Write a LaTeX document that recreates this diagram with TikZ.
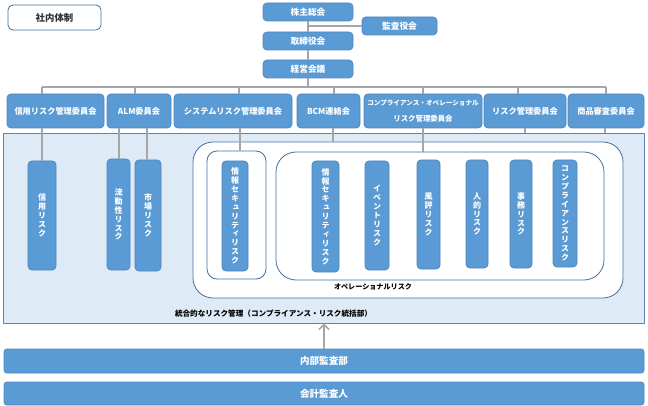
\documentclass[tikz,border=0pt]{standalone}
\usepackage{fontspec}
\newfontfamily\jp{Noto Sans CJK JP}
\newfontfamily\jpv[RawFeature=+vert]{Noto Sans CJK JP}
\usetikzlibrary{arrows.meta}
\definecolor{boxblue}{HTML}{5B9BD5}
\definecolor{boxedge}{HTML}{4F86BF}
\definecolor{panelfill}{HTML}{DEEAF6}
\definecolor{paneledge}{HTML}{5A86B2}
\definecolor{opedge}{HTML}{41719C}
\definecolor{conn}{HTML}{A6A6A6}
\tikzset{
  bluebox/.style={draw=boxedge, line width=0.8pt, fill=boxblue, rounded corners=4pt, text=white, inner sep=0pt, font=\jp\bfseries\fontsize{8.2}{9}\selectfont, align=center},
  topbox/.style={bluebox, font=\jp\bfseries\fontsize{8.7}{10}\selectfont},
  riskbox/.style={bluebox, font=\jpv\bfseries\fontsize{8}{8.9}\selectfont},
  wideband/.style={bluebox, rounded corners=3pt, font=\jp\bfseries\fontsize{9.6}{10}\selectfont},
  opbox/.style={draw=opedge, line width=0.8pt, fill=white, inner sep=0pt},
  link/.style={draw=conn, line width=1.4pt},
  lbl/.style={font=\jp\bfseries\fontsize{7.6}{9}\selectfont, text=black, inner sep=0pt}
}
\begin{document}
\begin{tikzpicture}[x=1pt,y=-1pt]
\useasboundingbox (0,0) rectangle (648,406);
% title
\node[draw=opedge, line width=0.8pt, fill=white, rounded corners=5pt, minimum width=93pt, minimum height=25pt, inner sep=0pt, text=black!80, font=\jp\bfseries\fontsize{9.4}{10}\selectfont] (title) at (54.5,17.5) {社内体制};
% panel
\node[draw=paneledge, line width=0.8pt, fill=panelfill, minimum width=641pt, minimum height=190pt, inner sep=0pt] (panel) at (323.5,228) {};
\node[opbox, rounded corners=20pt, minimum width=430pt, minimum height=156pt] (opouter) at (408,220) {};
\node[opbox, rounded corners=10pt, minimum width=59pt, minimum height=128pt] (in1) at (236.5,215) {};
\node[opbox, rounded corners=20pt, minimum width=328pt, minimum height=128pt] (in2) at (440,216) {};
% top governance
\node[topbox, minimum width=90pt, minimum height=18pt] (kabu) at (308,12) {株主総会};
\node[topbox, minimum width=75pt, minimum height=18pt] (kansa) at (399.5,26) {監査役会};
\node[topbox, minimum width=90pt, minimum height=18pt] (tori) at (308,41) {取締役会};
\node[topbox, minimum width=90pt, minimum height=18pt] (keiei) at (308,69) {経営会議};
% committees
\node[bluebox, minimum width=97pt, minimum height=34pt] (c1) at (55.5,111) {信用リスク管理委員会};
\node[bluebox, minimum width=64pt, minimum height=34pt] (c2) at (139,111) {ALM委員会};
\node[bluebox, minimum width=118pt, minimum height=34pt] (c3) at (233,111) {システムリスク管理委員会};
\node[bluebox, minimum width=63pt, minimum height=34pt] (c4) at (328.5,111) {BCM連絡会};
\node[bluebox, minimum width=118pt, minimum height=34pt, font=\jp\bfseries\fontsize{6.6}{16}\selectfont] (c5) at (423,111) {コンプライアンス・オペレーショナル\\{\fontsize{7.4}{9}\selectfont リスク管理委員会}};
\node[bluebox, minimum width=82pt, minimum height=34pt] (c6) at (525,111) {リスク管理委員会};
\node[bluebox, minimum width=76pt, minimum height=34pt] (c7) at (606,111) {商品審査委員会};
% risks
\node[riskbox, minimum width=28pt, minimum height=109pt] (r1) at (42,215.5) {信\\用\\リ\\ス\\ク};
\node[riskbox, minimum width=23pt, minimum height=111pt] (r2) at (118.5,214.5) {流\\動\\性\\リ\\ス\\ク};
\node[riskbox, minimum width=26pt, minimum height=111pt] (r3) at (148,215.5) {市\\場\\リ\\ス\\ク};
\node[riskbox, minimum width=26pt, minimum height=110pt] (r4) at (235,216) {情\\報\\セ\\キ\\ュ\\リ\\テ\\ィ\\リ\\ス\\ク};
\node[riskbox, minimum width=27pt, minimum height=111pt] (r5) at (325.5,216.5) {情\\報\\セ\\キ\\ュ\\リ\\テ\\ィ\\リ\\ス\\ク};
\node[riskbox, minimum width=24pt, minimum height=109pt] (r6) at (377,215.5) {イ\\ベ\\ン\\ト\\リ\\ス\\ク};
\node[riskbox, minimum width=23pt, minimum height=109pt] (r7) at (428.5,214.5) {風\\評\\リ\\ス\\ク};
\node[riskbox, minimum width=22pt, minimum height=108pt] (r8) at (477,214) {人\\的\\リ\\ス\\ク};
\node[riskbox, minimum width=22pt, minimum height=108pt] (r9) at (521,214) {事\\務\\リ\\ス\\ク};
\node[riskbox, minimum width=24pt, minimum height=107pt] (r10) at (565,213.5) {コ\\ン\\プ\\ラ\\イ\\ア\\ン\\ス\\リ\\ス\\ク};
% labels
\node[lbl, font=\jp\bfseries\fontsize{7.1}{9}\selectfont] (oplbl) at (373,287) {オペレーショナルリスク};
\node[lbl] (intlbl) at (273.5,314) {統合的なリスク管理（コンプライアンス・リスク統括部）};
% bottom bands
\node[wideband, minimum width=640pt, minimum height=24pt] (naibu) at (324,361) {内部監査部};
\node[wideband, minimum width=640pt, minimum height=23pt] (kaikei) at (324,393.5) {会計監査人};
% governance links
\draw[link] (kabu.south) -- (tori.north);
\coordinate (kj) at (308,26);
\draw[link] (kj) -- (kansa.west);
\draw[link] (tori.south) -- (keiei.north);
\coordinate (bus) at (308,87);
\draw[link] (keiei.south) -- (bus);
\coordinate (bL) at (42,87);
\coordinate (bR) at (606,87);
\draw[link] (bL) -- (bR);
\foreach \xx/\nn in {42/c1,135/c2,239/c3,334/c4,423/c5,518/c6,606/c7}{
  \draw[link] (\xx,87) -- (\xx,87 |- \nn.north);
}
% committee to risk links
\draw[link] (r1.north |- c1.south) -- (r1.north);
\draw[link] (119,128) coordinate (a2) -- (a2 |- r2.north);
\draw[link] (147,128) coordinate (a3) -- (a3 |- r3.north);
\draw[link] (240,128) coordinate (a4) -- (a4 |- in1.north);
\draw[link] (333,128) coordinate (a5) -- (a5 |- opouter.north);
\draw[link] (c5.south) -- (c5.south |- in2.north);
\draw[link] (c6.south) -- (c6.south |- panel.north);
\draw[link] (605,128) coordinate (a7) -- (a7 |- panel.north);
% audit arrow
\draw[draw=conn, line width=1.6pt, -{Straight Barb[length=5pt,width=10pt,line width=1.6pt]}] (naibu.north) -- (naibu.north |- panel.south);
\end{tikzpicture}
\end{document}
